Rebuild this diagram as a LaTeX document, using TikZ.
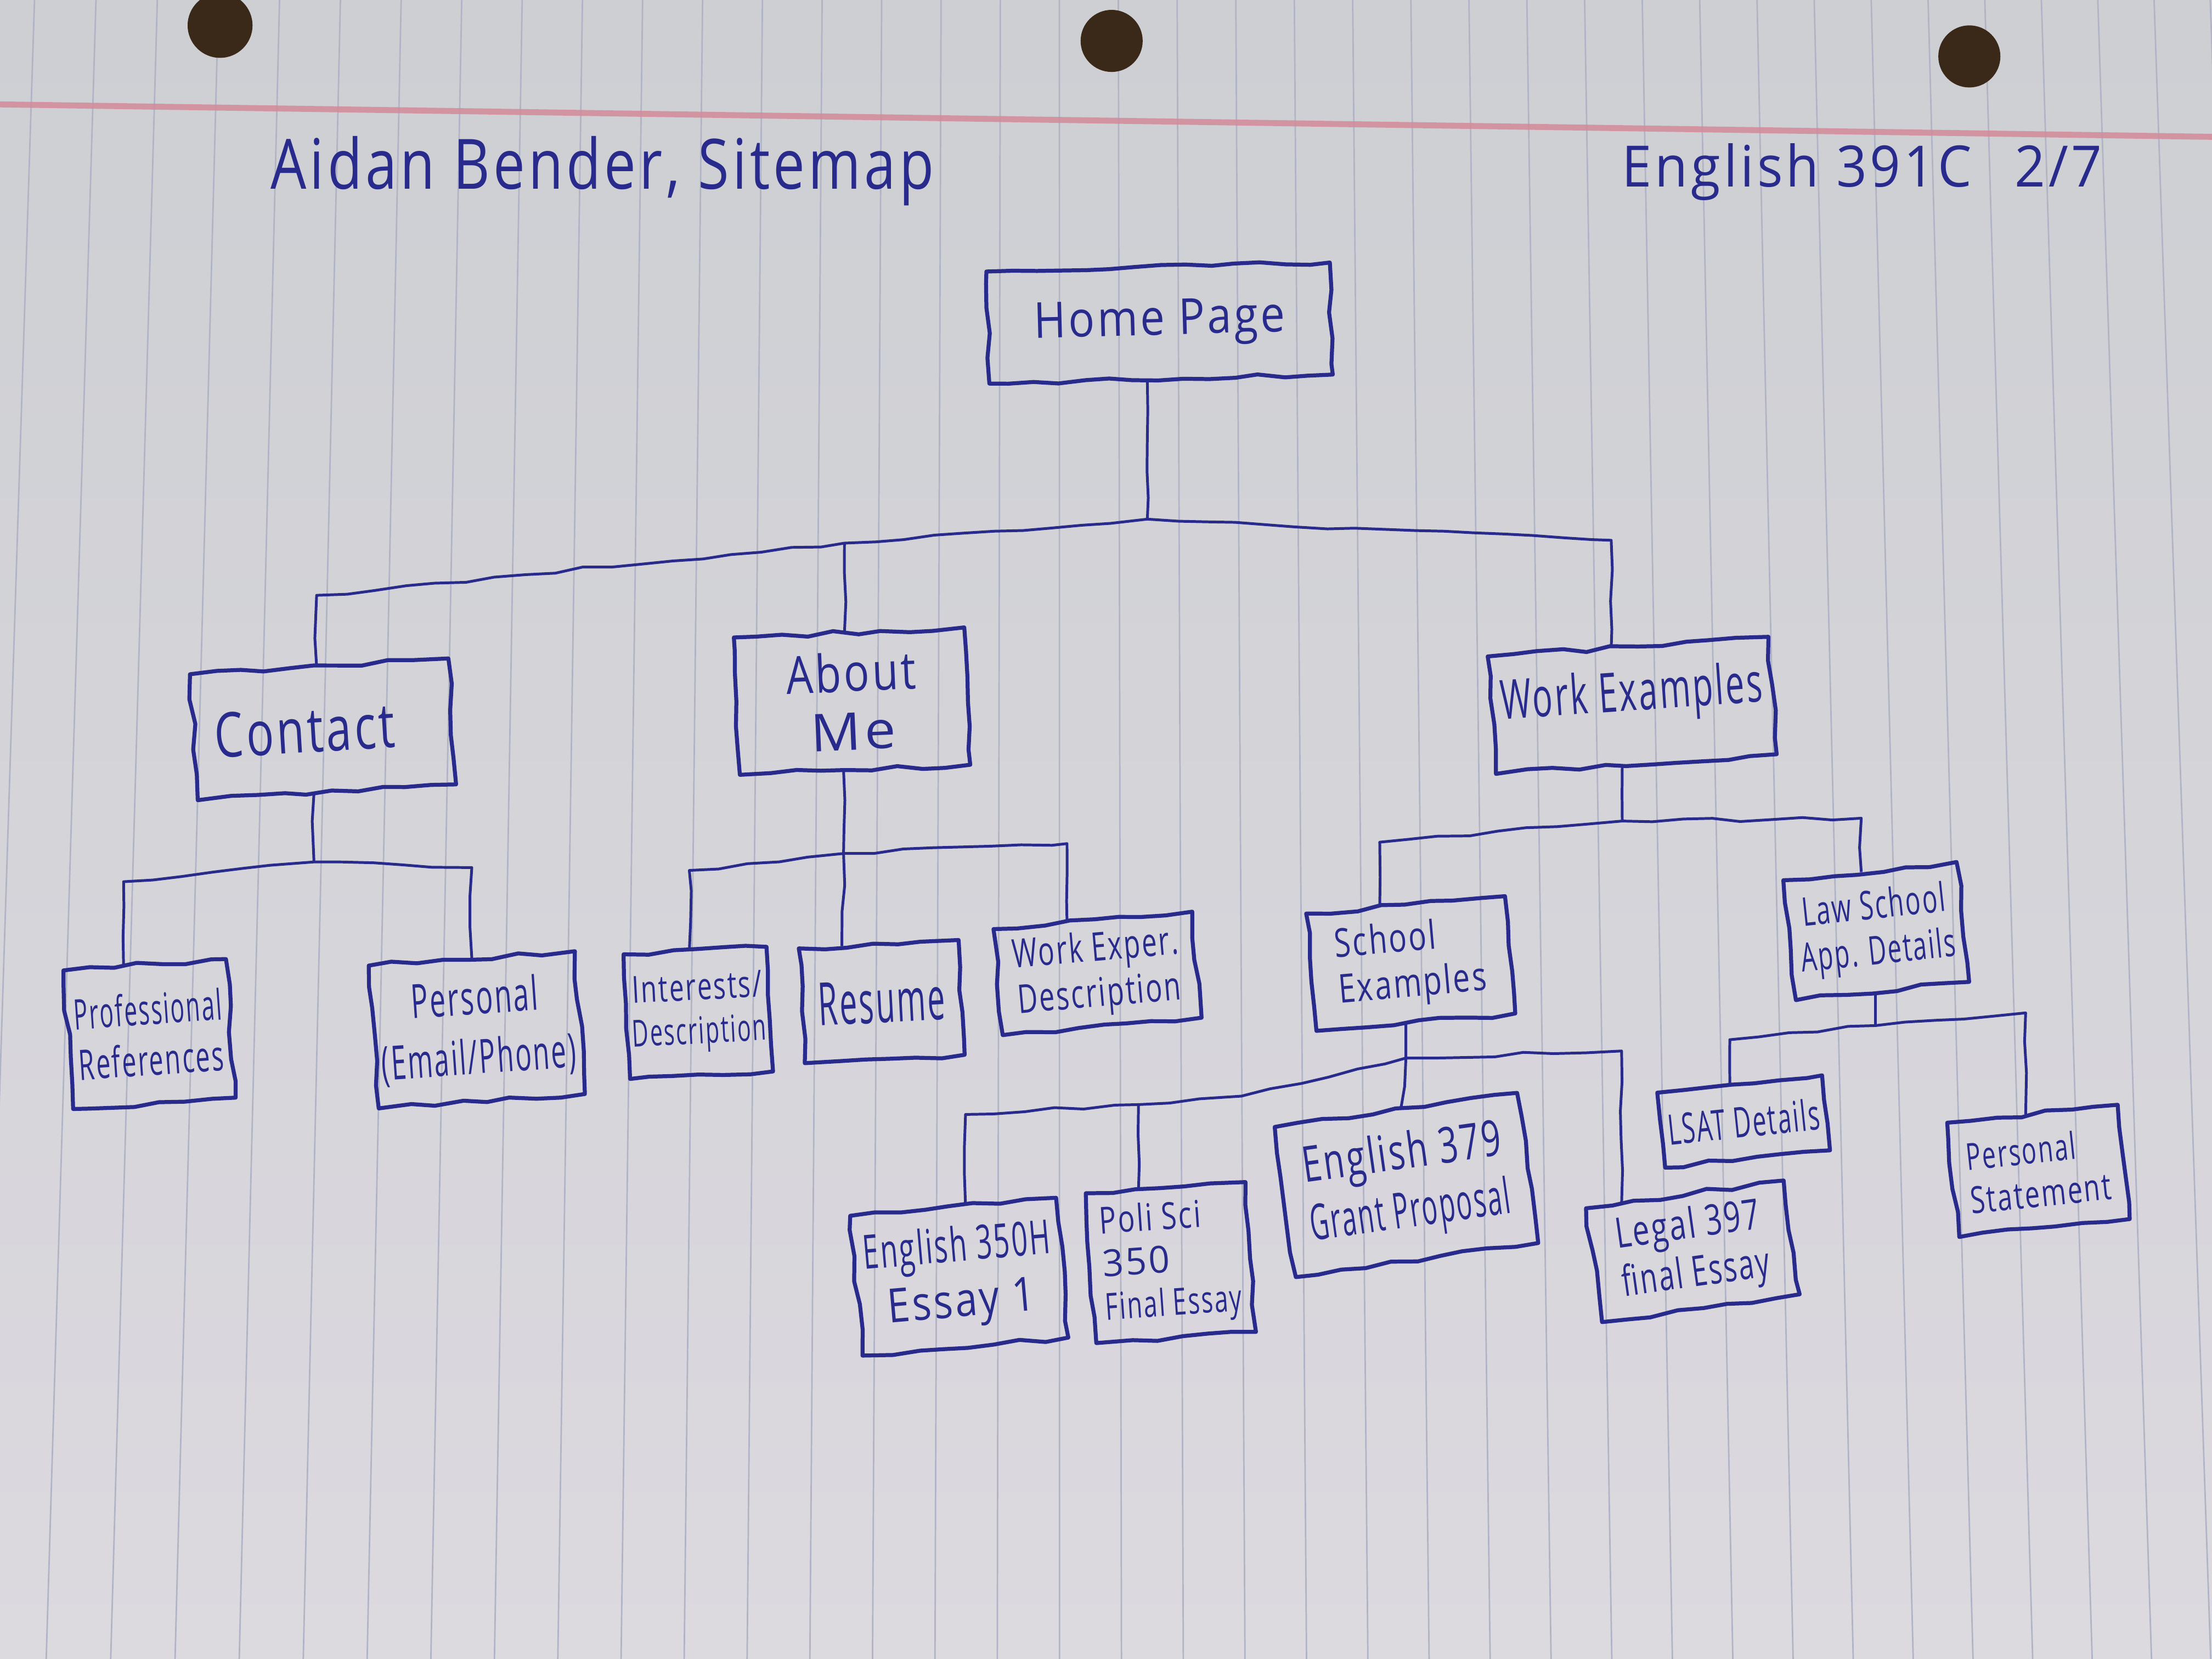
\documentclass[tikz,border=0pt]{standalone}
\usepackage{fontspec}
\setmainfont{Open Sans}[LetterSpace=6]
\usetikzlibrary{calc,decorations.pathmorphing}

\definecolor{papertop}{RGB}{205,207,211}
\definecolor{paperbot}{RGB}{220,217,223}
\definecolor{ruling}{RGB}{176,180,196}
\definecolor{margin}{RGB}{210,138,152}
\definecolor{ink}{RGB}{40,42,140}
\definecolor{holecol}{RGB}{58,40,24}

% stretch one line of handwriting sideways to a given width (in cm)
\newcommand\fitw[2]{\resizebox{#1cm}{\height}{#2}}
% hand-drawn outline round a page node
\newcommand\pageoutline[1]{%
  \draw[outline] (#1.north west) -- (#1.north east) -- (#1.south east)
    -- (#1.south west) -- cycle;}

\begin{document}
\pgfmathsetseed{11}
\begin{tikzpicture}[x=0.01cm,y=-0.01cm,
  hand/.style={text=ink, inner sep=0pt},
  pagebox/.style n args={3}{text=ink, inner sep=0pt,
    minimum width=#1cm, minimum height=#2cm, rotate=#3, align=center},
  outline/.style={draw=ink, line width=0.8pt, line join=round,
    decorate, decoration={random steps, segment length=5pt, amplitude=0.5pt}},
  fs/.style 2 args={font=\fontsize{#1}{#2}\selectfont},
  wire/.style={draw=ink, line width=0.55pt, line join=round,
    decorate, decoration={random steps, segment length=6pt, amplitude=0.4pt}},
  ruling line/.style={draw=ruling, line width=0.3pt},
]
\useasboundingbox (0,0) rectangle (1568,1176);

% ---------- notebook paper ----------
\begin{scope}
  \clip (0,0) rectangle (1568,1176);
  \shade[top color=papertop, bottom color=paperbot] (0,0) rectangle (1568,1176);
  \foreach \k in {-1,...,37}{
    \pgfmathsetmacro\xt{20+43.9*\k-0.053*\k*\k}
    \pgfmathsetmacro\xb{1.0437*\xt-32.8}
    \draw[ruling line] ({\xt-0.14*(\xb-\xt)},0) -- ({\xt+1.036*(\xb-\xt)},1176);
  }
  \draw[margin, line width=1.2pt, opacity=0.85] (0,74) -- (1568,97);
  \fill[holecol] (156,18) circle (23);
  \fill[holecol] (788,29) circle (22);
  \fill[holecol] (1396,40) circle (22);
\end{scope}

% ---------- heading ----------
\node[hand, fs={14}{16}] (title) at (427,121) {\fitw{4.7}{Aidan Bender, Sitemap}};
\node[hand, fs={11.5}{14}] (course) at (1320,122)
  {\fitw{3.4}{English 391C\hspace{0.8em}2/7}};

% ---------- pages ----------
\node[pagebox={2.42}{0.78}{1.5}, fs={10}{12}] (home) at (822,229)
  {\fitw{1.78}{Home Page}};

\node[pagebox={1.82}{0.88}{3.5}, fs={12.5}{14}] (contact) at (229,517)
  {\fitw{1.28}{Contact}\hspace{0.26cm}};
\node[pagebox={1.62}{0.96}{2.5}, fs={10.5}{11.8}] (about) at (604,497)
  {\fitw{0.92}{About}\\\fitw{0.6}{Me}};
\node[pagebox={1.98}{0.82}{4}, fs={11}{13}] (work) at (1157,500)
  {\raisebox{0.22cm}{\fitw{1.86}{Work Examples}}};

\node[pagebox={1.14}{0.97}{4}, fs={8.5}{10.2}] (prof) at (106,733)
  {\fitw{1.05}{Professional}\\\fitw{1.03}{References}};
\node[pagebox={1.45}{1.0}{4}, fs={9.5}{12}] (personal) at (338,730)
  {\fitw{0.9}{Personal}\\\fitw{1.38}{(Email/Phone)}};

\node[pagebox={1.0}{0.87}{3}, fs={7.5}{8.8}] (interests) at (495,718)
  {\fitw{0.92}{Interests/}\\\fitw{0.95}{Description}};
\node[pagebox={1.12}{0.8}{3}, fs={12}{14}] (resume) at (625,710)
  {\fitw{0.9}{Resume}};
\node[pagebox={1.4}{0.74}{5}, fs={8}{9.2}] (workexp) at (778,690)
  {\fitw{1.18}{Work Exper.}\\\fitw{1.16}{Description}};

\node[pagebox={1.4}{0.82}{5}, fs={8}{9.2}, align=left] (school) at (1000,683)
  {\fitw{0.72}{School}\\\fitw{1.05}{Examples}};
\node[pagebox={1.22}{0.84}{6}, fs={8}{9.2}] (law) at (1330,660)
  {\fitw{1.02}{Law School}\\\fitw{1.1}{App. Details}};

\node[pagebox={1.45}{0.98}{5}, fs={9.5}{11.2}] (eng350) at (680,905)
  {\fitw{1.33}{English 350H}\\\fitw{1.05}{Essay 1}};
\node[pagebox={1.12}{1.05}{4}, fs={7.5}{8.7}, align=left] (polisci) at (830,895)
  {\fitw{0.72}{Poli Sci}\\\fitw{0.48}{350}\\\fitw{0.97}{Final Essay}};
\node[pagebox={1.72}{1.06}{8}, fs={10}{11.8}] (eng379) at (997,840)
  {\fitw{1.42}{English 379}\\\fitw{1.43}{Grant Proposal}};
\node[pagebox={1.4}{0.8}{8}, fs={8.5}{9.8}, align=left] (legal) at (1200,887)
  {\fitw{1.03}{Legal 397}\\\fitw{1.05}{final Essay}};

\node[pagebox={1.16}{0.52}{6}, fs={8.5}{10}] (lsat) at (1236,795)
  {\fitw{1.08}{LSAT Details}};
\node[pagebox={1.2}{0.8}{6}, fs={7.5}{8.8}, align=left] (pstmt) at (1445,830)
  {\fitw{0.78}{Personal}\\\fitw{1.0}{Statement}};

\foreach \n in {home,contact,about,work,prof,personal,interests,resume,workexp,
                school,law,eng350,polisci,eng379,legal,lsat,pstmt}{
  \pageoutline{\n}
}

% ---------- attachment points on the page borders ----------
\coordinate (homeB)      at ($(home.south west)!0.46!(home.south east)$);
\coordinate (contactT)   at ($(contact.north west)!0.49!(contact.north east)$);
\coordinate (contactB)   at ($(contact.south west)!0.45!(contact.south east)$);
\coordinate (aboutT)     at ($(about.north west)!0.48!(about.north east)$);
\coordinate (aboutB)     at ($(about.south west)!0.45!(about.south east)$);
\coordinate (workT)      at ($(work.north west)!0.44!(work.north east)$);
\coordinate (workB)      at ($(work.south west)!0.45!(work.south east)$);
\coordinate (profT)      at ($(prof.north west)!0.37!(prof.north east)$);
\coordinate (personalT)  at ($(personal.north west)!0.5!(personal.north east)$);
\coordinate (interestsT) at ($(interests.north west)!0.46!(interests.north east)$);
\coordinate (resumeT)    at ($(resume.north west)!0.27!(resume.north east)$);
\coordinate (workexpT)   at ($(workexp.north west)!0.37!(workexp.north east)$);
\coordinate (schoolT)    at ($(school.north west)!0.37!(school.north east)$);
\coordinate (schoolB)    at ($(school.south west)!0.45!(school.south east)$);
\coordinate (lawT)       at ($(law.north west)!0.45!(law.north east)$);
\coordinate (lawB)       at ($(law.south west)!0.46!(law.south east)$);
\coordinate (eng350T)    at ($(eng350.north west)!0.56!(eng350.north east)$);
\coordinate (polisciT)   at ($(polisci.north west)!0.33!(polisci.north east)$);
\coordinate (eng379T)    at ($(eng379.north west)!0.52!(eng379.north east)$);
\coordinate (legalT)     at ($(legal.north west)!0.18!(legal.north east)$);
\coordinate (lsatT)      at ($(lsat.north west)!0.44!(lsat.north east)$);
\coordinate (pstmtT)     at ($(pstmt.north west)!0.46!(pstmt.north east)$);

% ---------- links: home level ----------
\coordinate (hb) at (homeB |- 0,368);
\coordinate (ca) at (contactT |- 0,422);
\coordinate (ab) at (aboutT |- 0,385);
\coordinate (wa) at (workT |- 0,383);
\draw[wire] (homeB) -- (hb);
\draw[wire] (contactT) -- (ca) -- (ab) -- (hb) -- (wa) -- (workT);
\draw[wire] (ab) -- (aboutT);

% ---------- links: contact ----------
\coordinate (cb) at (contactB |- 0,611);
\coordinate (cl) at (profT |- 0,625);
\coordinate (cr) at (personalT |- 0,615);
\draw[wire] (contactB) -- (cb);
\draw[wire] (profT) -- (cl) -- (cb) -- (cr) -- (personalT);

% ---------- links: about me ----------
\coordinate (am) at (aboutB |- 0,605);
\coordinate (al) at (interestsT |- 0,617);
\coordinate (ar) at (workexpT |- 0,598);
\draw[wire] (aboutB) -- (am) -- (resumeT);
\draw[wire] (interestsT) -- (al) -- (am) -- (ar) -- (workexpT);

% ---------- links: work examples ----------
\coordinate (wm) at (workB |- 0,582);
\coordinate (wl) at (schoolT |- 0,597);
\coordinate (wr) at (lawT |- 0,580);
\draw[wire] (workB) -- (wm);
\draw[wire] (schoolT) -- (wl) -- (wm) -- (wr) -- (lawT);

% ---------- links: school examples ----------
\coordinate (sm) at (schoolB |- 0,750);
\coordinate (s1) at (eng350T |- 0,790);
\coordinate (s2) at (polisciT |- 0,783);
\coordinate (s3) at (880,777);
\coordinate (s4) at (legalT |- 0,745);
\draw[wire] (schoolB) -- (sm) -- (eng379T);
\draw[wire] (eng350T) -- (s1) -- (s2) -- (s3) -- (sm) -- (s4) -- (legalT);
\draw[wire] (s2) -- (polisciT);

% ---------- links: law school ----------
\coordinate (lm) at (lawB |- 0,727);
\coordinate (l1) at (lsatT |- 0,737);
\coordinate (l2) at (pstmtT |- 0,718);
\draw[wire] (lawB) -- (lm);
\draw[wire] (lsatT) -- (l1) -- (lm) -- (l2) -- (pstmtT);

\end{tikzpicture}
\end{document}
